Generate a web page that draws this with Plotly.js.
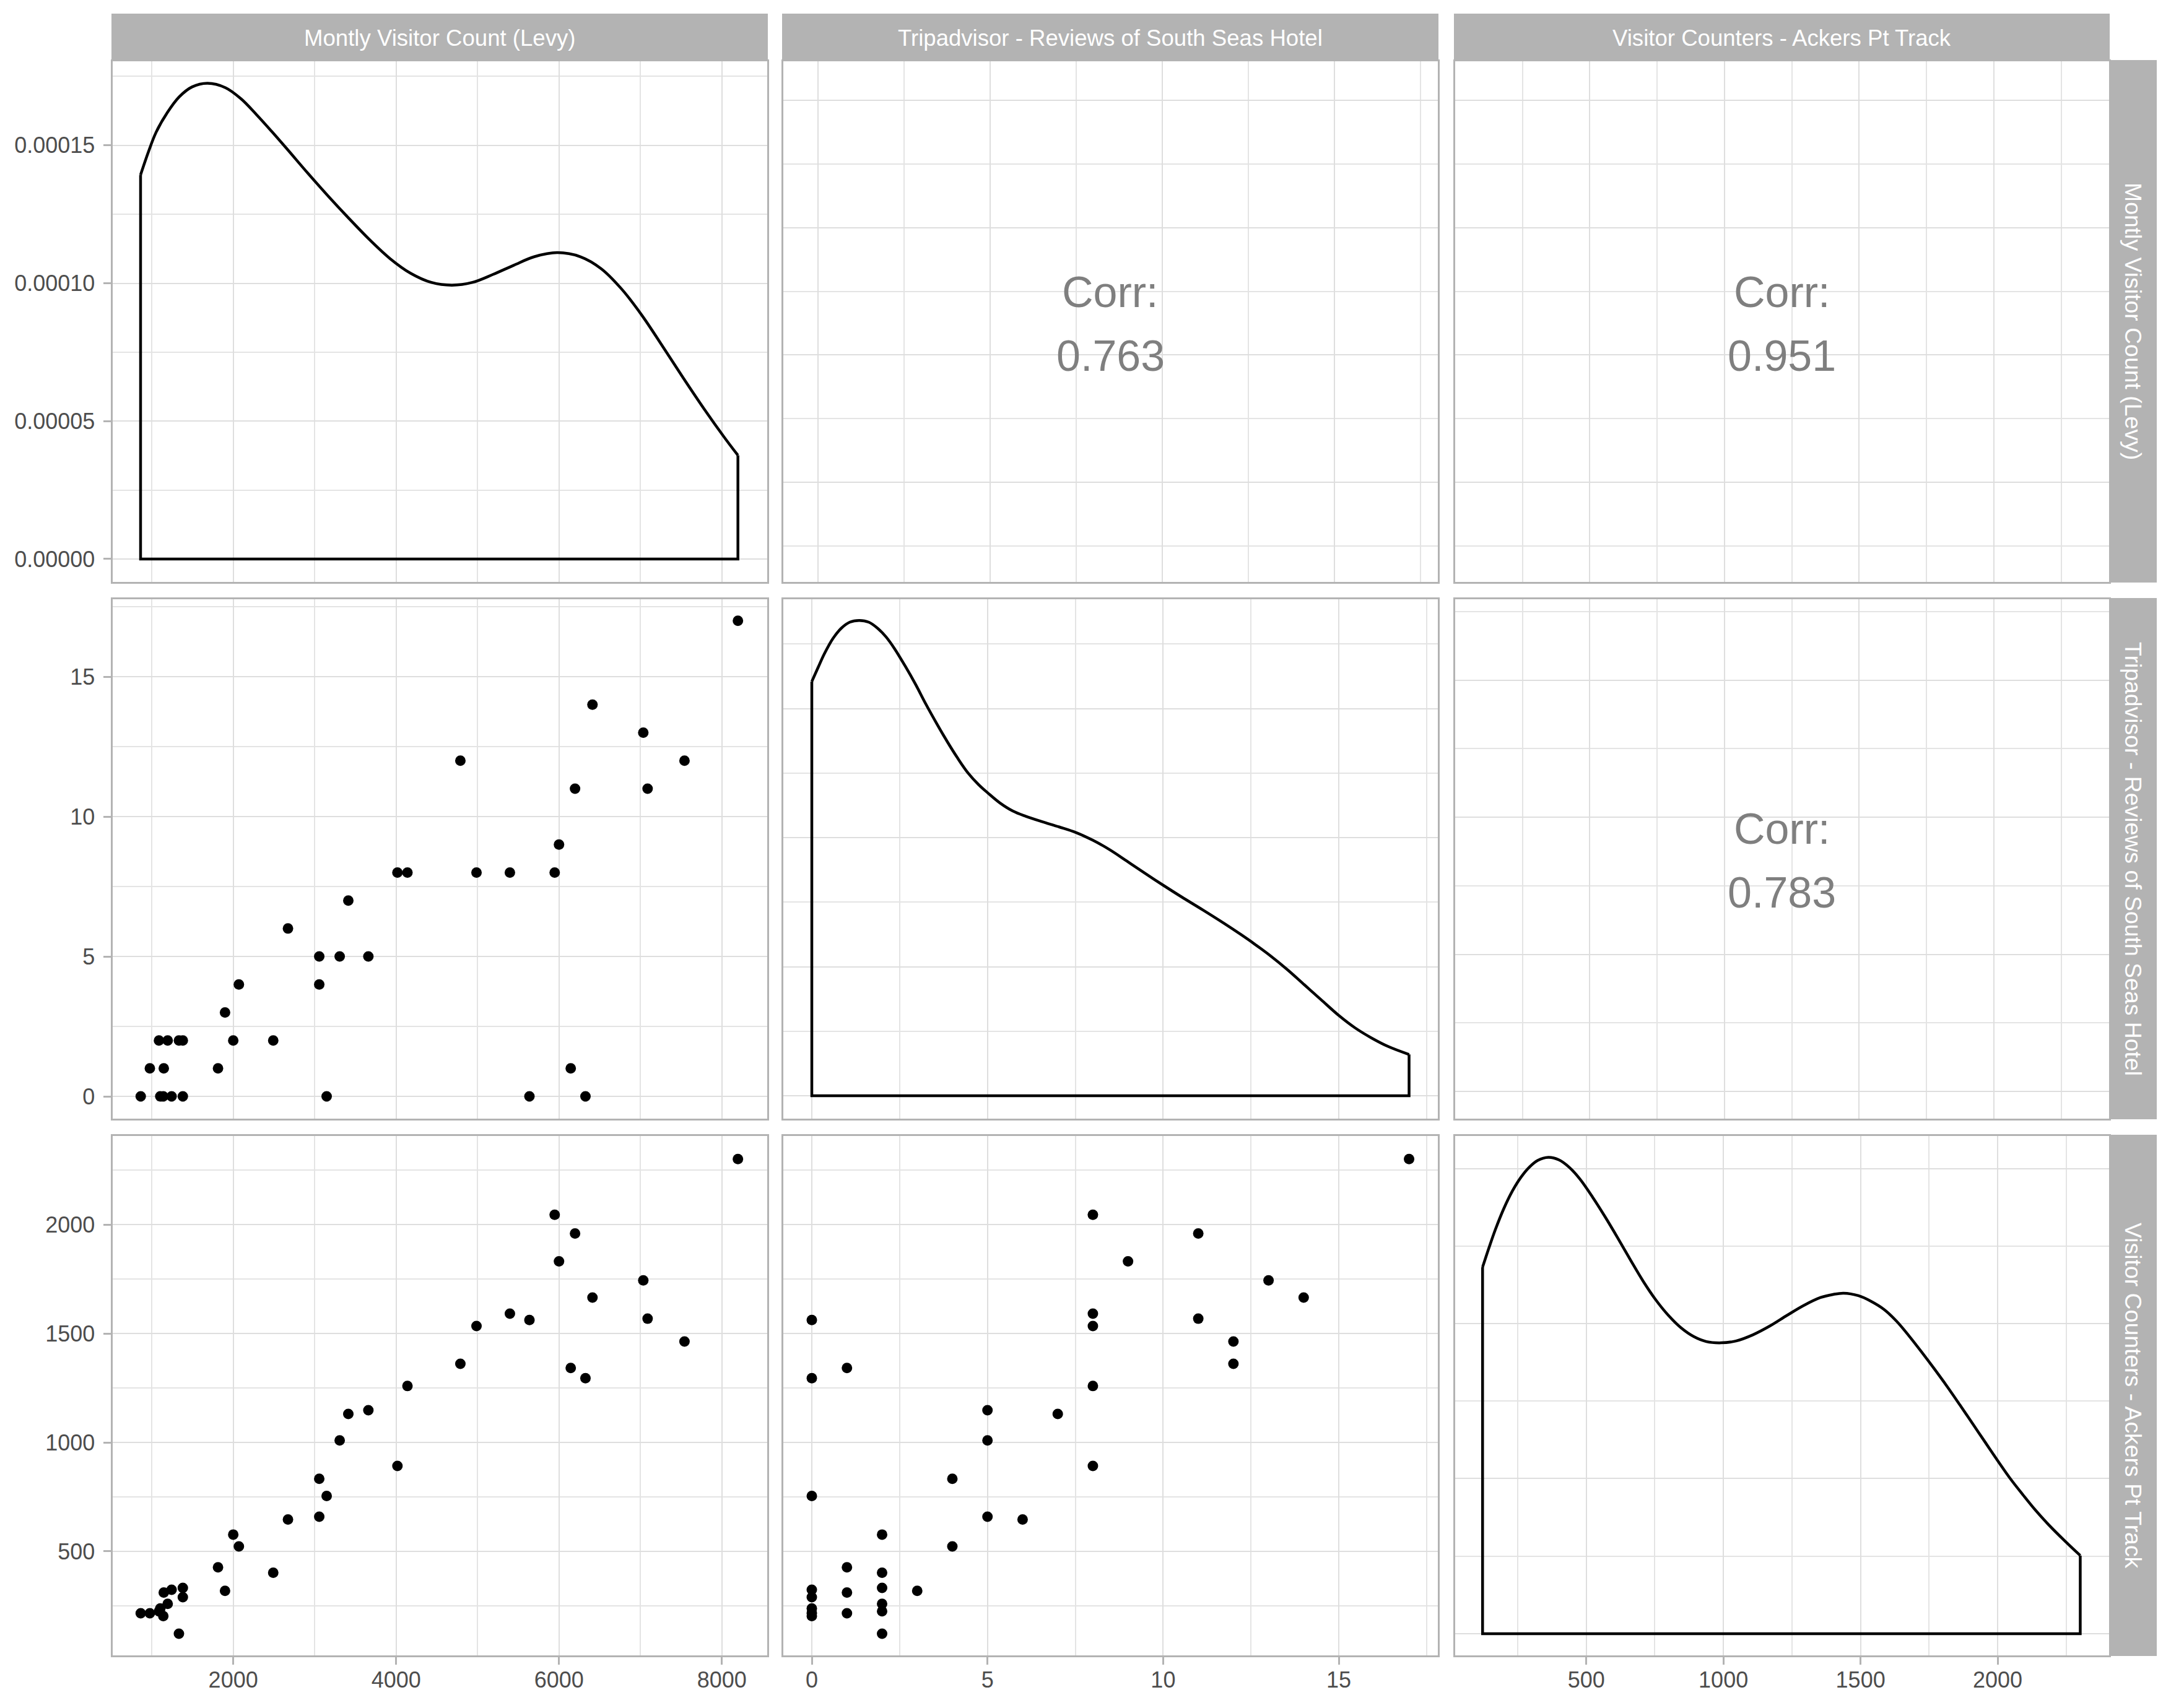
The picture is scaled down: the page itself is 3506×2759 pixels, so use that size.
<!DOCTYPE html>
<html>
<head>
<meta charset="utf-8">
<script src="https://cdn.plot.ly/plotly-3.0.1.min.js"></script>
<style>
  html, body { margin: 0; padding: 0; background: #fff; }
</style>
</head>
<body>
<div id="chart"></div>
<script>
// variable names on the strips
const varNames = [
  "Montly Visitor Count (Levy)",
  "Tripadvisor - Reviews of South Seas Hotel",
  "Visitor Counters - Ackers Pt Track",
];

// monthly observations, same order in all three arrays
const levyCount = [864, 1104, 1141, 1243, 1381, 3147, 5637, 6325, 976, 1147, 1813, 6144, 1088, 1195, 1333, 1381, 2000, 2491, 1899, 2069, 3056, 3056, 3307, 3659, 2672, 3413, 4016, 4139, 4987, 5397, 5947, 6000, 6197, 7088, 4789, 7541, 7035, 6411, 8197];
const tripReviews = [0, 0, 0, 0, 0, 0, 0, 0, 1, 1, 1, 1, 2, 2, 2, 2, 2, 2, 3, 4, 4, 5, 5, 5, 6, 7, 8, 8, 8, 8, 8, 9, 11, 11, 12, 12, 13, 14, 17];
const ackersCount = [216, 238, 203, 324, 290, 754, 1562, 1295, 216, 311, 427, 1342, 225, 259, 122, 332, 577, 402, 319, 523, 833, 659, 1009, 1148, 646, 1131, 892, 1259, 1534, 1591, 2045, 1831, 1959, 1568, 1361, 1463, 1744, 1665, 2301];

// density curves
const levyDensX = [862, 958, 1052, 1191, 1337, 1495, 1684, 1905, 2095, 2284, 2474, 2663, 2916, 3169, 3421, 3674, 3927, 4179, 4432, 4685, 4937, 5190, 5443, 5695, 5980, 6264, 6517, 6769, 7022, 7275, 7527, 7780, 8033, 8197];
const levyDensY = [0.0001393, 0.0001476, 0.0001547, 0.0001619, 0.0001676, 0.0001712, 0.0001725, 0.0001709, 0.0001669, 0.0001612, 0.000155, 0.0001486, 0.0001399, 0.0001315, 0.0001235, 0.0001158, 0.0001089, 0.0001036, 0.0001003, 0.0000993, 0.0001003, 0.0001032, 0.0001065, 0.0001096, 0.0001111, 0.0001096, 0.0001053, 0.0000979, 0.0000882, 0.000077, 0.0000656, 0.0000545, 0.000044, 0.0000376];
const tripDensX = [0, 0.18, 0.36, 0.6, 0.84, 1.08, 1.35, 1.62, 1.87, 2.11, 2.35, 2.65, 2.95, 3.25, 3.55, 3.85, 4.15, 4.45, 4.75, 5.01, 5.35, 5.72, 6.08, 6.56, 7.04, 7.52, 8, 8.48, 8.96, 9.45, 10.01, 10.53, 11.13, 11.73, 12.21, 12.58, 13.06, 13.54, 14.02, 14.5, 15.01, 15.46, 15.94, 16.42, 17];
const tripDensY = [0.0963, 0.0996, 0.1028, 0.1063, 0.1087, 0.1101, 0.1105, 0.1101, 0.1087, 0.1067, 0.104, 0.1, 0.0957, 0.091, 0.0866, 0.0824, 0.0785, 0.075, 0.0723, 0.0704, 0.0681, 0.0662, 0.065, 0.0637, 0.0625, 0.0612, 0.0594, 0.0572, 0.0546, 0.0519, 0.0489, 0.0462, 0.0432, 0.0401, 0.0375, 0.0354, 0.0325, 0.0293, 0.0258, 0.0223, 0.0186, 0.0158, 0.0134, 0.0114, 0.0096];
const ackersDensX = [122, 146, 169, 200, 231, 262, 292, 323, 362, 400, 438, 477, 523, 569, 615, 662, 708, 754, 800, 846, 892, 938, 992, 1046, 1108, 1169, 1231, 1292, 1354, 1400, 1438, 1492, 1538, 1585, 1631, 1677, 1723, 1769, 1815, 1862, 1908, 1954, 2000, 2046, 2092, 2138, 2185, 2246, 2301];
const ackersDensY = [0.000591, 0.000623, 0.000652, 0.000686, 0.000714, 0.000736, 0.000752, 0.000763, 0.000768, 0.000764, 0.000752, 0.000733, 0.000704, 0.000672, 0.000638, 0.000602, 0.000568, 0.000538, 0.000513, 0.000493, 0.000479, 0.000471, 0.000469, 0.000472, 0.000482, 0.000496, 0.000513, 0.000529, 0.000542, 0.000547, 0.000549, 0.000545, 0.000536, 0.000523, 0.000504, 0.00048, 0.000454, 0.000427, 0.000399, 0.000369, 0.000339, 0.000309, 0.000279, 0.00025, 0.000224, 0.000199, 0.000176, 0.000149, 0.000126];

// correlation labels
const corrLabel = "Corr:";
const corrValues = ["0.763", "0.951", "0.783"];

// ticks
const levyTicks = [2000, 4000, 6000, 8000];
const levyMinor = [1000, 3000, 5000, 7000];
const tripTicks = [0, 5, 10, 15];
const tripMinor = [2.5, 7.5, 12.5, 17.5];
const ackersTicks = [500, 1000, 1500, 2000];
const ackersMinor = [250, 750, 1250, 1750, 2250];
const levyDensTicks = [0, 0.00005, 0.0001, 0.00015];
const levyDensLabels = ["0.00000", "0.00005", "0.00010", "0.00015"];
const levyDensMinor = [0.000025, 0.000075, 0.000125, 0.000175];
const tripDensTicks = [0, 0.03, 0.06, 0.09];
const tripDensMinor = [0.015, 0.045, 0.075, 0.105];
const ackersDensTicks = [0, 0.00025, 0.0005, 0.00075];
const ackersDensMinor = [0.000125, 0.000375, 0.000625];

// page layout, in pixels
const W = 3506;
const H = 2759;
const colX = [[180, 1240], [1263, 2323], [2348, 3407]];
const rowY = [[97, 941], [966, 1808], [1833, 2675]];
const stripTop = [22, 97];
const stripRight = [3407, 3483];
const lineInset = 1.5; // the border sits inside the panel

const FONT = "'Liberation Sans', Arial, sans-serif";
const GREY_BORDER = "#B3B3B3";
const GREY_GRID = "#DEDEDE";
const GREY_MINOR = "#E4E4E4";
const GREY_TICK = "#4D4D4D";

// axis ranges per panel
const levyR = [516, 8553];
const tripR = [-0.82, 17.81];
const tripRY = [-0.785, 17.78];
const ackR = [21, 2405];
const ackRY = [24, 2408];
const corrLevyY = [439, 8620];
const corrTripX = [-1.01, 18];
const corrTripY = [-0.98, 17.96];
const corrAckR = [-1, 2427];

const panels = [
  { x: levyR, y: [-0.0000082, 0.0001806], xt: levyTicks, xm: levyMinor, yt: levyDensTicks, ym: levyDensMinor },
  { x: corrTripX, y: corrLevyY, xt: tripTicks, xm: tripMinor, yt: levyTicks, ym: levyMinor },
  { x: corrAckR, y: corrLevyY, xt: ackersTicks, xm: ackersMinor, yt: levyTicks, ym: levyMinor },
  { x: levyR, y: tripRY, xt: levyTicks, xm: levyMinor, yt: tripTicks, ym: tripMinor },
  { x: tripR, y: [-0.00525, 0.1155], xt: tripTicks, xm: tripMinor, yt: tripDensTicks, ym: tripDensMinor },
  { x: corrAckR, y: corrTripY, xt: ackersTicks, xm: ackersMinor, yt: tripTicks, ym: tripMinor },
  { x: levyR, y: ackRY, xt: levyTicks, xm: levyMinor, yt: ackersTicks, ym: ackersMinor },
  { x: tripR, y: ackRY, xt: tripTicks, xm: tripMinor, yt: ackersTicks, ym: ackersMinor },
  { x: ackR, y: [-0.0000345, 0.000803], xt: ackersTicks, xm: ackersMinor, yt: ackersDensTicks, ym: ackersDensMinor },
];

function axisKey(letter, n) {
  return letter + "axis" + (n === 1 ? "" : n);
}

function baseAxis(range, ticks, minorTicks, showLabels) {
  return {
    range: range,
    tickmode: "array",
    tickvals: ticks,
    showgrid: true,
    gridcolor: GREY_GRID,
    gridwidth: 2.4,
    minor: { tickmode: "array", tickvals: minorTicks, showgrid: true, gridcolor: GREY_MINOR, gridwidth: 1.5, ticks: "" },
    zeroline: false,
    showline: true,
    mirror: true,
    linecolor: GREY_BORDER,
    linewidth: 3,
    ticks: showLabels ? "outside" : "",
    ticklen: 12,
    tickwidth: 2.5,
    tickcolor: GREY_BORDER,
    showticklabels: showLabels,
    tickfont: { family: FONT, size: 36, color: GREY_TICK },
    automargin: false,
    fixedrange: true,
  };
}

const layout = {
  width: W,
  height: H,
  margin: { l: 0, r: 0, t: 0, b: 0, pad: 0 },
  paper_bgcolor: "#ffffff",
  plot_bgcolor: "#ffffff",
  showlegend: false,
  font: { family: FONT },
  shapes: [],
  annotations: [],
};

// 9 panels
panels.forEach((p, i) => {
  const row = Math.floor(i / 3);
  const col = i % 3;
  const n = i + 1;
  const xa = baseAxis(p.x, p.xt, p.xm, row === 2);
  xa.domain = [(colX[col][0] + lineInset) / W, (colX[col][1] - lineInset) / W];
  xa.anchor = "y" + (n === 1 ? "" : n);
  xa.ticklabelstandoff = -6;
  const ya = baseAxis(p.y, p.yt, p.ym, col === 0);
  ya.domain = [1 - (rowY[row][1] - lineInset) / H, 1 - (rowY[row][0] + lineInset) / H];
  ya.anchor = "x" + (n === 1 ? "" : n);
  ya.ticklabelstandoff = 6;
  if (i === 0) ya.ticktext = levyDensLabels;
  layout[axisKey("x", n)] = xa;
  layout[axisKey("y", n)] = ya;
});

function paperRect(x0, x1, y0, y1) {
  return {
    type: "rect", xref: "paper", yref: "paper", layer: "above",
    x0: x0 / W, x1: x1 / W, y0: 1 - y1 / H, y1: 1 - y0 / H,
    fillcolor: GREY_BORDER, line: { width: 0 },
  };
}

function stripText(text, px, py, angle, size) {
  return {
    text: text, xref: "paper", yref: "paper", x: px / W, y: 1 - py / H,
    xanchor: "center", yanchor: "middle", showarrow: false, textangle: angle,
    font: { family: FONT, size: size, color: "#ffffff" },
  };
}

// strips
varNames.forEach((name, i) => {
  layout.shapes.push(paperRect(colX[i][0], colX[i][1], stripTop[0], stripTop[1]));
  layout.shapes.push(paperRect(stripRight[0], stripRight[1], rowY[i][0], rowY[i][1]));
  layout.annotations.push(stripText(name, (colX[i][0] + colX[i][1]) / 2, (stripTop[0] + stripTop[1]) / 2 + 2, 0, 36.6));
  layout.annotations.push(stripText(name, (stripRight[0] + stripRight[1]) / 2, (rowY[i][0] + rowY[i][1]) / 2, 90, 37.4));
});

// correlation text
function corrText(text, n, x, y) {
  const s = n === 1 ? "" : n;
  return {
    text: text, xref: "x" + s, yref: "y" + s, x: x, y: y,
    xanchor: "center", yanchor: "middle", showarrow: false,
    font: { family: FONT, size: 70, color: "#7F7F7F" },
  };
}
layout.annotations.push(corrText(corrLabel, 2, 8.5, 4986));
layout.annotations.push(corrText(corrValues[0], 2, 8.5, 3984));
layout.annotations.push(corrText(corrLabel, 3, 1213, 4986));
layout.annotations.push(corrText(corrValues[1], 3, 1213, 3984));
layout.annotations.push(corrText(corrLabel, 6, 1213, 9.57));
layout.annotations.push(corrText(corrValues[2], 6, 1213, 7.25));

// traces
const traces = [];

function addPoints(n, xs, ys) {
  const s = n === 1 ? "" : n;
  traces.push({
    type: "scatter", mode: "markers", x: xs, y: ys, xaxis: "x" + s, yaxis: "y" + s,
    marker: { size: 17, color: "#000000" }, cliponaxis: false, hoverinfo: "skip",
  });
}

function addDensity(n, xs, ys) {
  const s = n === 1 ? "" : n;
  const first = xs[0];
  const last = xs[xs.length - 1];
  // the smooth top of the curve
  traces.push({
    type: "scatter", mode: "lines", x: xs, y: ys, xaxis: "x" + s, yaxis: "y" + s,
    line: { color: "#000000", width: 4.5, shape: "spline", smoothing: 1 }, hoverinfo: "skip",
  });
  // closing sides and baseline
  traces.push({
    type: "scatter", mode: "lines",
    x: [first, first, last, last],
    y: [ys[0], 0, 0, ys[ys.length - 1]],
    xaxis: "x" + s, yaxis: "y" + s,
    line: { color: "#000000", width: 4.5 }, hoverinfo: "skip",
  });
}

addDensity(1, levyDensX, levyDensY);
addPoints(4, levyCount, tripReviews);
addDensity(5, tripDensX, tripDensY);
addPoints(7, levyCount, ackersCount);
addPoints(8, tripReviews, ackersCount);
addDensity(9, ackersDensX, ackersDensY);

Plotly.newPlot("chart", traces, layout, { displayModeBar: false, responsive: false });
</script>
</body>
</html>
